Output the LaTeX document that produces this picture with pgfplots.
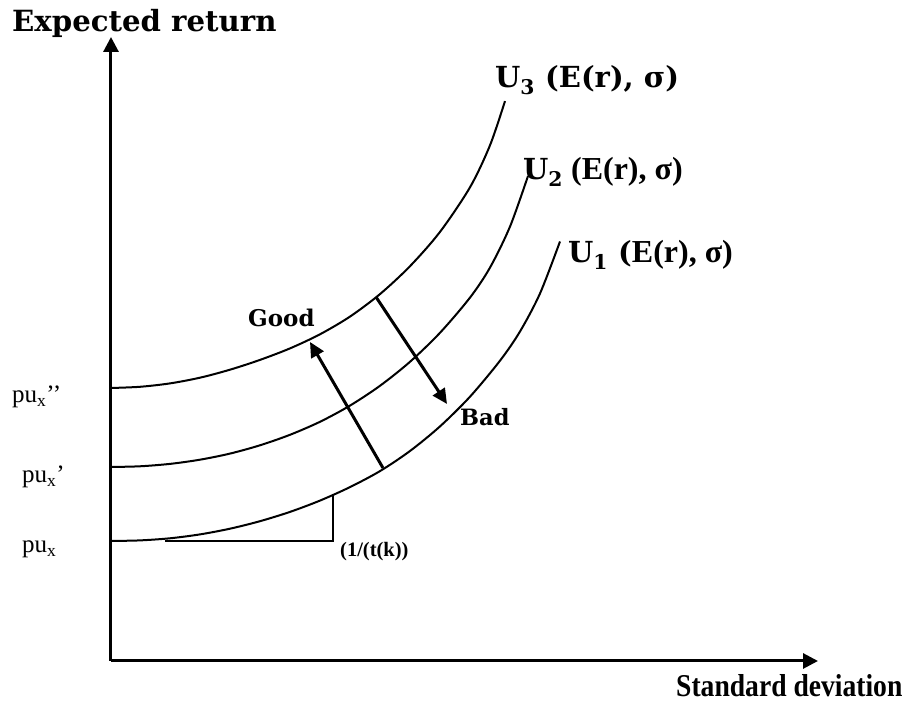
\documentclass[border=0pt]{standalone}
\usepackage{fontspec}
\setmainfont{Liberation Serif}
\newfontfamily\dvserif{DejaVu Serif}
\usepackage{graphicx}
\usepackage{pgfplots}
\pgfplotsset{compat=1.18}
\usetikzlibrary{arrows.meta}

\begin{document}
\begin{tikzpicture}
\begin{axis}[
  x=1pt, y=1pt,
  xmin=111, xmax=818, ymin=47, ymax=671,
  axis lines=left,
  axis line style={line width=3pt, -{Triangle[length=15pt,width=15pt]}},
  xtick=\empty, ytick=\empty,
  clip=false,
]
% page frame
\path (axis cs:0,0) rectangle (axis cs:922,708);

% indifference curves U1, U2, U3
\addplot[black, line width=2pt, smooth] coordinates {
  (111,167) (140,167.6) (170,169.7) (200,173.6) (230,179.3) (260,186.8)
  (290,196.1) (320,207.4) (350,220.9) (380,236.9) (410,257.0) (440,281.6)
  (470,311.3) (500,347.3) (520,376.5) (540,414.5) (560,466.5)
};
\addplot[black, line width=2pt, smooth] coordinates {
  (111,241) (140,241.7) (170,244.1) (200,248.3) (230,254.4) (260,262.7)
  (290,273.2) (320,286.2) (350,302.4) (380,322.2) (410,346.2) (440,375.2)
  (470,410.4) (490,440.4) (510,481.4) (528,532)
};
\addplot[black, line width=2pt, smooth] coordinates {
  (111,320) (140,321.2) (170,324.6) (200,330.3) (230,338.3) (260,348.1)
  (290,359.6) (320,373.7) (350,391.4) (380,413.9) (410,441.8) (440,476.1)
  (470,520.7) (490,562.7) (505,606.9)
};

% slope triangle
\addplot[black, line width=2pt] coordinates {(165,167) (333,167) (333,214)};

% good / bad arrows
\addplot[black, line width=3pt, -{Triangle[length=15pt,width=14pt]}] coordinates {(383,240) (310,366)};
\addplot[black, line width=3pt, -{Triangle[length=15pt,width=14pt]}] coordinates {(376,411) (447,304)};

% labels
\node[anchor=base west, inner sep=0] at (axis cs:12,676)
  {\dvserif\bfseries\fontsize{29.2}{32}\selectfont Expected return};
\node[anchor=base west, inner sep=0] at (axis cs:676,11)
  {\scalebox{1}[1.15]{\bfseries\fontsize{27.6}{30}\selectfont Standard deviation}};

\node[anchor=base west, inner sep=0] at (axis cs:495,620)
  {\dvserif\bfseries\fontsize{29}{32}\selectfont U\textsubscript{3} (E(r), σ)};
\node[anchor=base west, inner sep=0] at (axis cs:523,528)
  {{\dvserif\bfseries\fontsize{29}{32}\selectfont U\textsubscript{2}}\bfseries\fontsize{32}{34}\selectfont\ (E(r), σ)};
\node[anchor=base west, inner sep=0] at (axis cs:568,445)
  {{\dvserif\bfseries\fontsize{29}{32}\selectfont U\textsubscript{1} (}\bfseries\fontsize{32}{34}\selectfont E(r), σ)};

\node[anchor=base west, inner sep=0] at (axis cs:248,381)
  {\dvserif\bfseries\fontsize{23}{25}\selectfont Good};
\node[anchor=base west, inner sep=0] at (axis cs:460,282)
  {\dvserif\bfseries\fontsize{22.5}{25}\selectfont Bad};

\node[anchor=base west, inner sep=0] at (axis cs:12,305)
  {\fontsize{25}{27}\selectfont pu\textsubscript{x}’’};
\node[anchor=base west, inner sep=0] at (axis cs:22,225)
  {\fontsize{25}{27}\selectfont pu\textsubscript{x}’};
\node[anchor=base west, inner sep=0] at (axis cs:22,155)
  {\fontsize{25}{27}\selectfont pu\textsubscript{x}};

\node[anchor=base west, inner sep=0] at (axis cs:340,151)
  {\bfseries\fontsize{20.5}{22}\selectfont (1/(t(k))};
\end{axis}
\end{tikzpicture}
\end{document}
